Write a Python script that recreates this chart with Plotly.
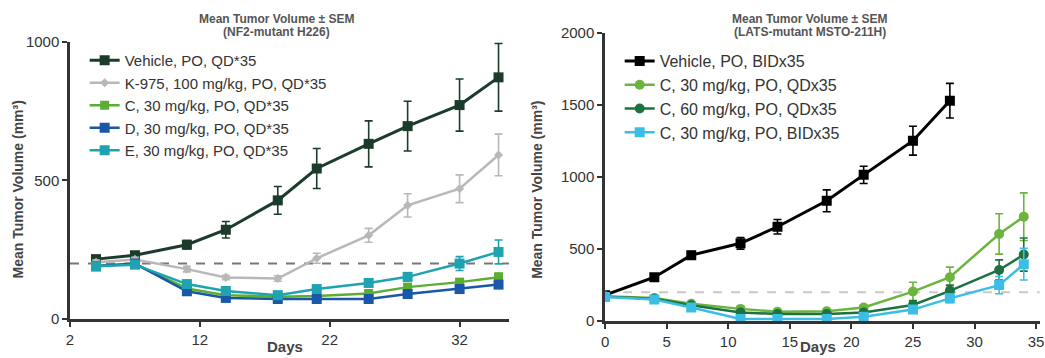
import plotly.graph_objects as go
from plotly.subplots import make_subplots

# left panel: NF2-mutant H226
days_l = [4, 7, 11, 14, 18, 21, 25, 28, 32, 35]
veh_l = [216, 230, 268, 322, 428, 543, 632, 696, 772, 872]
veh_l_err = [10, 10, 15, 30, 50, 72, 83, 90, 94, 122]
k975 = [205, 215, 180, 150, 146, 219, 302, 410, 470, 592]
k975_err = [8, 8, 10, 8, 10, 18, 25, 42, 50, 75]
c_l = [192, 198, 110, 86, 80, 83, 92, 115, 133, 151]
c_l_err = [8, 8, 8, 6, 6, 6, 8, 10, 12, 15]
d_l = [190, 200, 100, 76, 72, 72, 72, 90, 108, 124]
d_l_err = [8, 8, 8, 6, 6, 6, 6, 8, 10, 12]
e_l = [190, 196, 126, 101, 86, 108, 130, 152, 200, 242]
e_l_err = [8, 8, 8, 6, 6, 8, 10, 14, 25, 43]

# right panel: LATS-mutant MSTO-211H
days_veh_r = [0, 4, 7, 11, 14, 18, 21, 25, 28]
veh_r = [180, 305, 458, 540, 655, 835, 1015, 1252, 1530]
veh_r_err = [10, 20, 25, 40, 50, 76, 60, 100, 120]
days_r = [0, 4, 7, 11, 14, 18, 21, 25, 28, 32, 34]
c30qd = [172, 160, 120, 85, 65, 68, 95, 205, 305, 605, 725]
c30qd_err = [10, 10, 10, 10, 10, 10, 15, 65, 70, 140, 165]
c60qd = [170, 155, 110, 60, 50, 50, 60, 112, 210, 355, 462]
c60qd_err = [10, 10, 10, 8, 8, 8, 10, 30, 40, 70, 115]
c30bid = [168, 150, 95, 15, 15, 15, 30, 80, 158, 250, 395]
c30bid_err = [10, 10, 10, 5, 5, 5, 8, 20, 30, 60, 110]

fig = make_subplots(rows=1, cols=2)

def add(x, y, err, name, color, symbol, size, col, legend, width=2.5):
    fig.add_trace(go.Scatter(
        x=x, y=y, name=name, mode="lines+markers",
        line=dict(color=color, width=width),
        marker=dict(symbol=symbol, size=size, color=color),
        error_y=dict(type="data", array=err, color=color, thickness=1.6, width=4),
        legend=legend,
    ), row=1, col=col)

add(days_l, veh_l, veh_l_err, "Vehicle, PO, QD*35", "#1b3b2b", "square", 10, 1, "legend", 3)
add(days_l, k975, k975_err, "K-975, 100 mg/kg, PO, QD*35", "#b8b8b8", "diamond", 7, 1, "legend")
add(days_l, c_l, c_l_err, "C, 30 mg/kg, PO, QD*35", "#5cae32", "square", 9, 1, "legend")
add(days_l, d_l, d_l_err, "D, 30 mg/kg, PO, QD*35", "#1a57a8", "square", 10, 1, "legend")
add(days_l, e_l, e_l_err, "E, 30 mg/kg, PO, QD*35", "#1fa3b0", "square", 10, 1, "legend")

add(days_veh_r, veh_r, veh_r_err, "Vehicle, PO, BIDx35", "#000000", "square", 10, 2, "legend2", 3)
add(days_r, c30qd, c30qd_err, "C, 30 mg/kg, PO, QDx35", "#6db33f", "circle", 10, 2, "legend2")
add(days_r, c60qd, c60qd_err, "C, 60 mg/kg, PO, QDx35", "#1d7340", "circle", 10, 2, "legend2")
add(days_r, c30bid, c30bid_err, "C, 30 mg/kg, PO, BIDx35", "#3bbde6", "square", 10, 2, "legend2")

# 200 mm3 reference lines
fig.add_shape(type="line", xref="x", yref="y", x0=2, x1=35.8, y0=200, y1=200,
              line=dict(color="#777777", width=2, dash="dash"), layer="below")
fig.add_shape(type="line", xref="x2", yref="y2", x0=0, x1=35.3, y0=200, y1=200,
              line=dict(color="#c8c8c8", width=2, dash="dash"), layer="below")

ax = dict(showline=True, linecolor="#333333", linewidth=2.5, ticks="outside",
          ticklen=5, tickwidth=2, tickcolor="#333333", showgrid=False, zeroline=False,
          automargin=False, tickfont=dict(size=15, color="#333333"))

fig.update_xaxes(**ax)
fig.update_yaxes(**ax)
fig.update_xaxes(range=[2, 35.8], tick0=2, dtick=10, domain=[0.067, 0.487], row=1, col=1)
fig.update_yaxes(range=[0, 1000], dtick=500, domain=[0.109, 0.883], row=1, col=1)
fig.update_xaxes(range=[0, 35.3], dtick=5, domain=[0.579, 0.995], row=1, col=2)
fig.update_yaxes(range=[0, 2000], dtick=500, domain=[0.103, 0.908], row=1, col=2)

anns = [
    dict(x=0.265, y=0.947, text="<b>Mean Tumor Volume ± SEM</b>", size=12),
    dict(x=0.265, y=0.911, text="<b>(NF2-mutant H226)</b>", size=12),
    dict(x=0.775, y=0.947, text="<b>Mean Tumor Volume ± SEM</b>", size=12),
    dict(x=0.775, y=0.911, text="<b>(LATS-mutant MSTO-211H)</b>", size=12),
]
for a in anns:
    fig.add_annotation(xref="paper", yref="paper", x=a["x"], y=a["y"], text=a["text"],
                       xanchor="center", yanchor="middle", showarrow=False,
                       font=dict(size=a["size"], color="#555555"))
for xp in [0.273, 0.783]:
    fig.add_annotation(xref="paper", yref="paper", x=xp, y=0.003, xanchor="center",
                       yanchor="bottom", text="<b>Days</b>", showarrow=False,
                       font=dict(size=15, color="#444444"))
for xp in [0.017, 0.514]:
    fig.add_annotation(xref="paper", yref="paper", x=xp, y=0.47, xanchor="center",
                       yanchor="middle", text="<b>Mean Tumor Volume (mm³)</b>",
                       textangle=-90, showarrow=False,
                       font=dict(size=14, color="#444444"))

fig.update_layout(
    width=1045, height=358,
    margin=dict(l=0, r=0, t=0, b=0),
    template="plotly_white",
    plot_bgcolor="white",
    font=dict(family="Liberation Sans, Arial", color="#333333"),
    legend=dict(x=0.081, y=0.877, xanchor="left", yanchor="top",
                font=dict(size=15), bgcolor="rgba(0,0,0,0)", tracegroupgap=0,
                itemwidth=30),
    legend2=dict(x=0.593, y=0.877, xanchor="left", yanchor="top",
                 font=dict(size=16), bgcolor="rgba(0,0,0,0)", tracegroupgap=0,
                 itemwidth=30),
)

fig.write_html("out.html", config={"displayModeBar": False},
               post_script="document.body.style.margin='0';"
               "document.body.style.overflow='hidden';")
